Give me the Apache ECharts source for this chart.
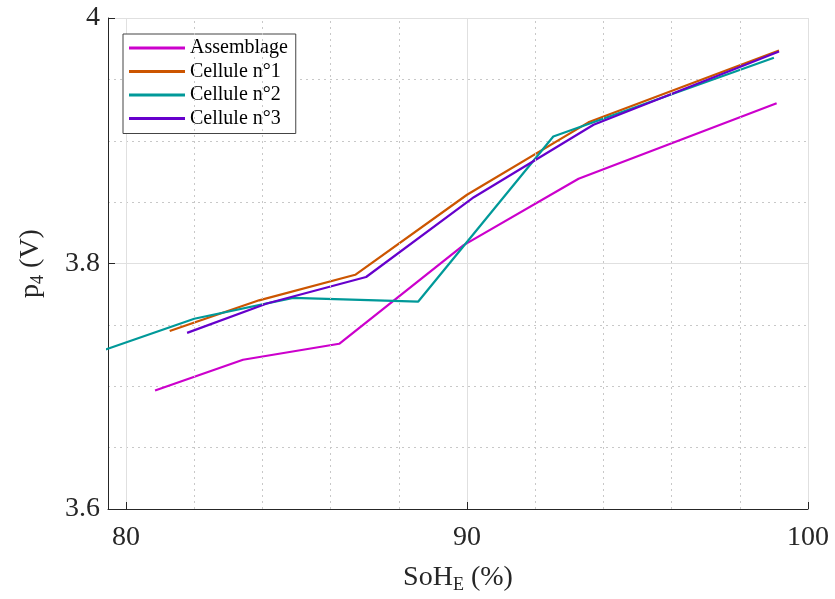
<!DOCTYPE html>
<html>
<head>
<meta charset="utf-8">
<script src="https://cdn.jsdelivr.net/npm/echarts@6/dist/echarts.min.js"></script>
<style>html,body{margin:0;padding:0;background:#fff;}#c{width:835px;height:599px;}</style>
</head>
<body>
<div id="c"></div>
<script>
const seriesNames = ['Assemblage', 'Cellule n°1', 'Cellule n°2', 'Cellule n°3'];
const assemblageX = [80.85, 83.43, 86.25, 89.9, 93.27, 99.08];
const assemblageY = [3.6965, 3.7216, 3.7346, 3.815, 3.869, 3.9306];
const cell1X = [81.28, 83.9, 86.72, 90.0, 93.56, 99.15];
const cell1Y = [3.745, 3.770, 3.7908, 3.856, 3.915, 3.9735];
const cell2X = [79.2, 82.0, 84.9, 88.57, 92.53, 93.6, 99.0];
const cell2Y = [3.728, 3.755, 3.772, 3.769, 3.9035, 3.914, 3.9676];
const cell3X = [81.79, 84.13, 87.04, 90.2, 93.71, 99.15];
const cell3Y = [3.7435, 3.7674, 3.789, 3.854, 3.913, 3.9727];
const xMin = 79.47, xMax = 100;
const yMin = 3.6, yMax = 4.0, yStep = 0.2;
const xMinorGrid = [82, 84, 86, 88, 92, 94, 96, 98];
const colors = ['#CC00CC', '#CC5500', '#009999', '#6600CC'];

const zip = (xs, ys) => xs.map((x, i) => [x, ys[i]]);
const datasets = [zip(assemblageX, assemblageY), zip(cell1X, cell1Y), zip(cell2X, cell2Y), zip(cell3X, cell3Y)];

const serif = 'Liberation Serif';
const txt = '#262626';

const chart = echarts.init(document.getElementById('c'), null, {renderer: 'canvas'});
const series = datasets.map((d, i) => ({
  name: seriesNames[i], type: 'line', data: d, showSymbol: false, symbol: 'none',
  lineStyle: {color: colors[i], width: 2.2}, itemStyle: {color: colors[i]}, z: 3, animation: false
}));
series.unshift({
  name: '_grid', type: 'line', data: [], z: 1, silent: true, animation: false,
  markLine: {
    silent: true, symbol: 'none', animation: false, label: {show: false},
    lineStyle: {type: [2, 4], color: '#c8c8c8', width: 1},
    data: xMinorGrid.map(v => ({xAxis: v}))
  }
});

chart.setOption({
  animation: false,
  backgroundColor: '#fff',
  grid: {left: 108, right: 27, top: 18, bottom: 90, containLabel: false},
  legend: {
    data: seriesNames, orient: 'vertical', left: 123, top: 34,
    itemWidth: 56, itemHeight: 12, itemGap: 3.5,
    padding: [4, 8, 5, 6],
    borderColor: '#444', borderWidth: 1, backgroundColor: '#fff',
    textStyle: {fontFamily: serif, fontSize: 20, color: '#000', padding: [0, 0, 0, 0]},
    icon: 'path://M0,0L56,0L56,3L0,3Z'
  },
  xAxis: {
    type: 'value', min: xMin, max: xMax, minInterval: 10, maxInterval: 10,
    axisLine: {show: true, lineStyle: {color: txt, width: 1}},
    axisTick: {show: true, inside: true, length: 7, lineStyle: {color: txt}},
    axisLabel: {
      fontFamily: serif, fontSize: 28, color: txt, margin: 15,
      formatter: v => (Math.abs(v / 10 - Math.round(v / 10)) < 1e-6 ? String(Math.round(v)) : '')
    },
    splitLine: {show: true, lineStyle: {color: '#e0e0e0', width: 1}},
    minorTick: {show: false}, minorSplitLine: {show: false},
    name: '{a|SoH}{s|E}{a| (%)}', nameLocation: 'middle', nameGap: 54,
    nameTextStyle: {
      rich: {
        a: {fontFamily: serif, fontSize: 28, color: txt, lineHeight: 30},
        s: {fontFamily: serif, fontSize: 18, color: txt, lineHeight: 20, padding: [14, 0, 0, 0]}
      }
    }
  },
  yAxis: {
    type: 'value', min: yMin, max: yMax, interval: yStep,
    axisLine: {show: true, lineStyle: {color: txt, width: 1}},
    axisTick: {show: true, inside: true, length: 7, lineStyle: {color: txt}},
    axisLabel: {fontFamily: serif, fontSize: 28, color: txt, margin: 8,
      formatter: v => String(+v.toFixed(1))},
    splitLine: {show: true, lineStyle: {color: '#e0e0e0', width: 1}},
    minorTick: {show: false, splitNumber: 4},
    minorSplitLine: {show: true, lineStyle: {type: [2, 4], color: '#c8c8c8', width: 1}},
    name: '{a|p}{s|4}{a| (V)}', nameLocation: 'middle', nameGap: 62, nameRotate: 90,
    nameTextStyle: {
      rich: {
        a: {fontFamily: serif, fontSize: 28, color: txt, lineHeight: 30},
        s: {fontFamily: serif, fontSize: 18, color: txt, lineHeight: 20, padding: [14, 0, 0, 0]}
      }
    }
  },
  series: series
});
</script>
</body>
</html>
